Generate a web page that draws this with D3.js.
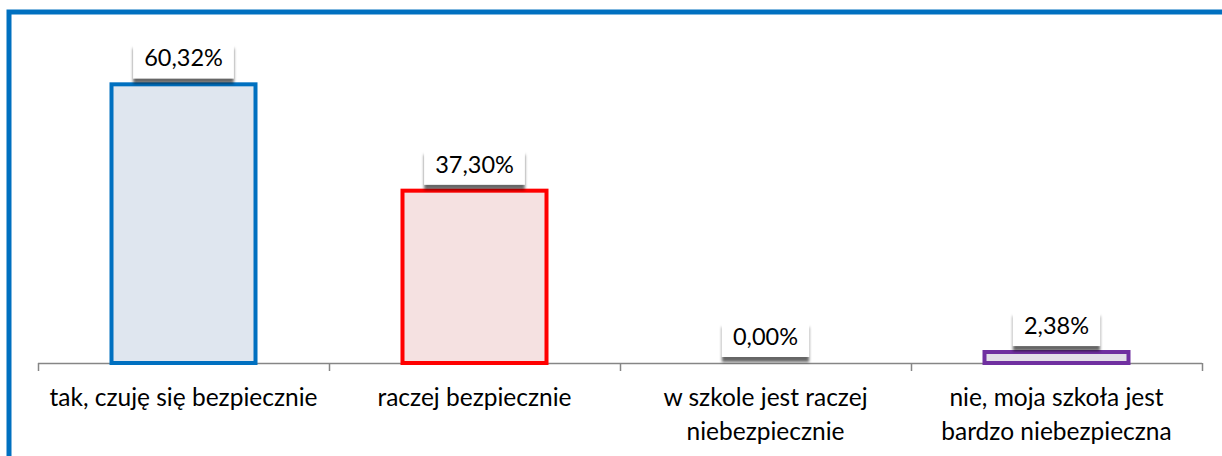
<!DOCTYPE html>
<html>
<head>
<meta charset="utf-8">
<script src="https://cdn.jsdelivr.net/npm/d3@7"></script>
<style>
  body { margin: 0; background: #fff; }
  svg { display: block; font-family: Lato, "Open Sans", sans-serif; }
</style>
</head>
<body>
<svg id="chart" width="1222" height="456"></svg>
<script>
// chart data
const categories = [
    ["tak, czuję się bezpiecznie"],
    ["raczej bezpiecznie"],
    ["w szkole jest raczej", "niebezpiecznie"],
    ["nie, moja szkoła jest", "bardzo niebezpieczna"]
];
const values = [60.32, 37.30, 0.00, 2.38];
const valueLabels = ["60,32%", "37,30%", "0,00%", "2,38%"];
const strokes = ["#0070c0", "#ff0000", "#7f7f7f", "#7030a0"];
const fills = ["#dfe6ef", "#f5e1e1", "#e8e8e8", "#e3dfe8"];

const svg = d3.select("#chart");

// shadow for the label boxes
const defs = svg.append("defs");
const f = defs.append("filter").attr("id", "shadow")
    .attr("x", "-20%").attr("y", "-20%").attr("width", "140%").attr("height", "170%");
f.append("feDropShadow").attr("dx", 0).attr("dy", 5).attr("stdDeviation", 1.8)
    .attr("flood-color", "#000").attr("flood-opacity", 0.6);

// outer blue frame
svg.append("rect")
    .attr("x", 9).attr("y", 12)
    .attr("width", 1240).attr("height", 470)
    .attr("fill", "none")
    .attr("stroke", "#0070c0")
    .attr("stroke-width", 5);

const axisY = 363;
const x = d3.scaleBand()
    .domain(d3.range(categories.length))
    .range([38, 1202]);

const y = d3.scaleLinear().domain([0, 100]).range([axisY, axisY - 462]);

const barW = 144;

// axis line + ticks
const axis = svg.append("g");
axis.append("line")
    .attr("x1", x.range()[0]).attr("x2", x.range()[1])
    .attr("y1", axisY + 0.5).attr("y2", axisY + 0.5)
    .attr("stroke", "#868686").attr("stroke-width", 1.5);
d3.range(categories.length + 1).forEach(i => {
    const tx = Math.round(x.range()[0] + i * x.bandwidth()) + 0.5;
    axis.append("line")
        .attr("x1", tx).attr("x2", tx)
        .attr("y1", axisY).attr("y2", axisY + 8)
        .attr("stroke", "#868686").attr("stroke-width", 1.5);
});

// bars
svg.selectAll("rect.bar")
    .data(values)
    .enter().append("rect")
    .attr("class", "bar")
    .attr("x", (d, i) => x(i) + x.bandwidth() / 2 - barW / 2)
    .attr("y", d => y(d))
    .attr("width", barW)
    .attr("height", d => axisY - y(d))
    .attr("fill", (d, i) => fills[i])
    .attr("stroke", (d, i) => d > 0 ? strokes[i] : "none")
    .attr("stroke-width", 4);

// value label boxes
const lab = svg.selectAll("g.lab")
    .data(values)
    .enter().append("g")
    .attr("class", "lab")
    .attr("transform", (d, i) => `translate(${x(i) + x.bandwidth() / 2},${y(d)})`);

const box = lab.append("rect")
    .attr("y", -41)
    .attr("height", 35)
    .attr("fill", "#fff")
    .attr("filter", "url(#shadow)");

const txt = lab.append("text")
    .attr("text-anchor", "middle")
    .attr("y", -18)
    .attr("font-size", 23.5)
    .attr("fill", "#000")
    .text((d, i) => valueLabels[i]);

// size boxes to the text
txt.each(function (d, i) {
    const w = this.getComputedTextLength() + 22;
    d3.select(box.nodes()[i]).attr("x", -w / 2).attr("width", w);
});

// category labels
svg.selectAll("text.cat")
    .data(categories)
    .enter().append("text")
    .attr("class", "cat")
    .attr("text-anchor", "middle")
    .attr("font-size", 24.5)
    .attr("fill", "#000")
    .each(function (d, i) {
        const t = d3.select(this);
        d.forEach((line, j) => {
            t.append("tspan")
                .attr("x", x(i) + x.bandwidth() / 2)
                .attr("y", 406 + j * 34)
                .text(line);
        });
    });
</script>
</body>
</html>
